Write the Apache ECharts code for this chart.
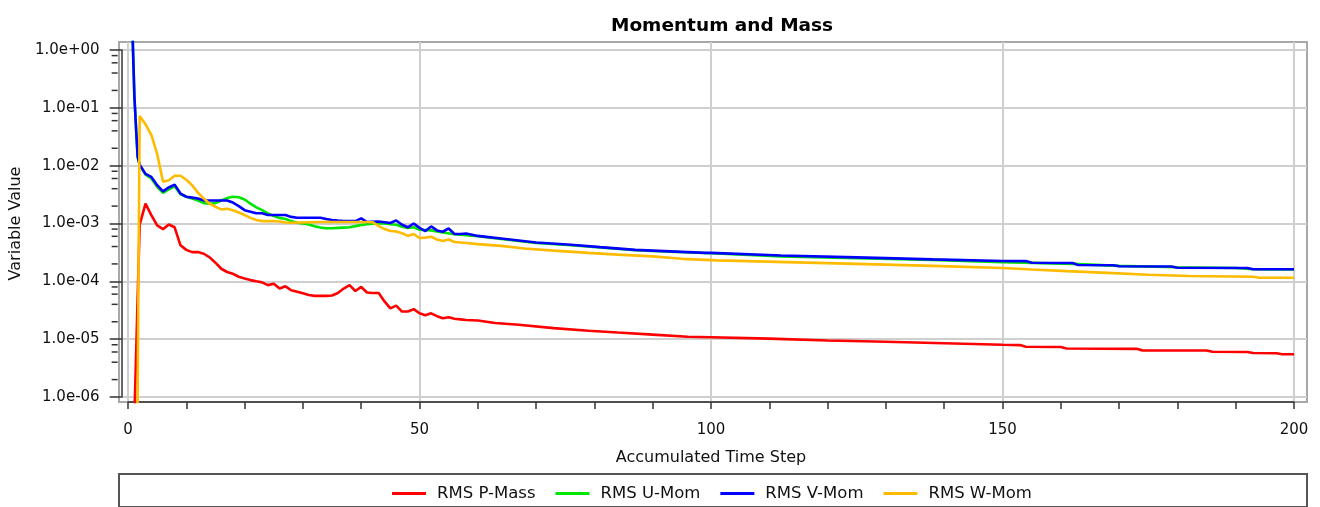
<!DOCTYPE html>
<html>
<head>
<meta charset="utf-8">
<script src="https://cdn.jsdelivr.net/npm/echarts@6/dist/echarts.min.js"></script>
<style>
html,body{margin:0;padding:0;background:#fff;}
#chart{width:1320px;height:507px;}
</style>
</head>
<body>
<div id="chart"></div>
<script>
// ---------- data ----------
const chartTitle = 'Momentum and Mass';
const xAxisTitle = 'Accumulated Time Step';
const yAxisTitle = 'Variable Value';
const seriesNames = ['RMS P-Mass', 'RMS U-Mom', 'RMS V-Mom', 'RMS W-Mom'];
const yTickExponents = [-6, -5, -4, -3, -2, -1, 0];
const yTickLabels = ['1.0e-06', '1.0e-05', '1.0e-04', '1.0e-03', '1.0e-02', '1.0e-01', '1.0e+00'];
const yMinorTickValues = [
  2e-6, 4e-6, 6e-6, 8e-6, 2e-5, 4e-5, 6e-5, 8e-5, 2e-4, 4e-4, 6e-4, 8e-4,
  2e-3, 4e-3, 6e-3, 8e-3, 2e-2, 4e-2, 6e-2, 8e-2, 0.2, 0.4, 0.6, 0.8
];
const xTickLabels = ['0', '50', '100', '150', '200'];

const pMass = [
  [1, 2e-7], [2, 9.5e-4], [3, 2.2e-3], [4, 1.4e-3], [5, 9.3e-4], [6, 8.0e-4], [7, 9.6e-4], [8, 8.6e-4],
  [9, 4.2e-4], [10, 3.5e-4], [11, 3.2e-4], [12, 3.2e-4], [13, 3.0e-4], [14, 2.6e-4], [15, 2.1e-4],
  [16, 1.65e-4], [17, 1.45e-4], [18, 1.35e-4], [19, 1.2e-4], [20, 1.12e-4], [21, 1.05e-4], [22, 1.0e-4],
  [23, 9.6e-5], [24, 8.6e-5], [25, 9.1e-5], [26, 7.5e-5], [27, 8.2e-5], [28, 7.0e-5], [29, 6.6e-5],
  [30, 6.2e-5], [31, 5.8e-5], [32, 5.6e-5], [33, 5.6e-5], [34, 5.6e-5], [35, 5.7e-5], [36, 6.3e-5],
  [37, 7.5e-5], [38, 8.6e-5], [39, 6.8e-5], [40, 8.0e-5], [41, 6.4e-5], [42, 6.3e-5], [43, 6.3e-5],
  [44, 4.5e-5], [45, 3.4e-5], [46, 3.8e-5], [47, 3.0e-5], [48, 3.0e-5], [49, 3.3e-5], [50, 2.8e-5],
  [51, 2.6e-5], [52, 2.8e-5], [53, 2.5e-5], [54, 2.3e-5], [55, 2.4e-5], [56, 2.25e-5], [57, 2.2e-5],
  [58, 2.15e-5], [60, 2.1e-5], [63, 1.9e-5], [67, 1.78e-5], [73, 1.55e-5], [79, 1.4e-5], [84, 1.3e-5],
  [90, 1.2e-5], [96, 1.1e-5], [100, 1.08e-5], [110, 1.02e-5], [120, 9.5e-6], [130, 9.0e-6],
  [140, 8.5e-6], [150, 8.0e-6], [153, 7.9e-6], [154, 7.4e-6], [160, 7.3e-6], [161, 6.9e-6],
  [173, 6.8e-6], [174, 6.4e-6], [185, 6.35e-6], [186, 6.05e-6], [192, 6.0e-6], [193, 5.75e-6],
  [197, 5.7e-6], [198, 5.5e-6], [200, 5.5e-6]
];

const uMom = [
  [0.8, 1.6], [1.1, 0.155], [1.4, 0.041], [1.65, 0.0143], [2, 0.0102], [3, 7.0e-3], [4, 6.0e-3],
  [5, 4.3e-3], [6, 3.4e-3], [7, 3.9e-3], [8, 4.4e-3], [9, 3.2e-3], [10, 2.9e-3], [11, 2.7e-3],
  [12, 2.5e-3], [13, 2.25e-3], [14, 2.2e-3], [15, 2.25e-3], [16, 2.5e-3], [17, 2.75e-3], [18, 2.9e-3],
  [19, 2.85e-3], [20, 2.6e-3], [21, 2.2e-3], [22, 1.9e-3], [23, 1.7e-3], [24, 1.5e-3], [25, 1.35e-3],
  [26, 1.25e-3], [27, 1.2e-3], [28, 1.1e-3], [29, 1.03e-3], [30, 1.0e-3], [31, 9.6e-4], [32, 9.0e-4],
  [33, 8.5e-4], [34, 8.3e-4], [35, 8.3e-4], [36, 8.4e-4], [37, 8.5e-4], [38, 8.6e-4], [39, 9.0e-4],
  [40, 9.4e-4], [41, 9.7e-4], [42, 9.9e-4], [43, 1.0e-3], [44, 1.0e-3], [45, 9.7e-4], [46, 9.5e-4],
  [47, 8.8e-4], [48, 8.4e-4], [49, 8.6e-4], [50, 7.8e-4], [52, 7.6e-4], [54, 7.0e-4], [56, 6.5e-4],
  [58, 6.3e-4], [60, 6.0e-4], [64, 5.4e-4], [70, 4.6e-4], [76, 4.2e-4], [81, 3.85e-4], [87, 3.45e-4],
  [93, 3.25e-4], [100, 3.05e-4], [112, 2.7e-4], [125, 2.5e-4], [138, 2.35e-4], [150, 2.15e-4],
  [162, 2.0e-4], [170, 1.85e-4], [180, 1.75e-4], [190, 1.7e-4], [193, 1.62e-4], [200, 1.6e-4]
];

const vMom = [
  [0.8, 1.6], [1.1, 0.155], [1.4, 0.041], [1.65, 0.0143], [2, 0.0104], [3, 7.2e-3], [4, 6.4e-3],
  [5, 4.6e-3], [6, 3.6e-3], [7, 4.2e-3], [8, 4.7e-3], [9, 3.3e-3], [10, 2.9e-3], [11, 2.8e-3],
  [12, 2.7e-3], [13, 2.5e-3], [14, 2.5e-3], [15, 2.5e-3], [16, 2.5e-3], [17, 2.5e-3], [18, 2.3e-3],
  [19, 2.0e-3], [20, 1.7e-3], [21, 1.6e-3], [22, 1.5e-3], [23, 1.5e-3], [24, 1.4e-3], [25, 1.4e-3],
  [26, 1.4e-3], [27, 1.4e-3], [28, 1.3e-3], [29, 1.26e-3], [30, 1.26e-3], [31, 1.26e-3], [32, 1.26e-3],
  [33, 1.26e-3], [34, 1.2e-3], [35, 1.15e-3], [36, 1.12e-3], [37, 1.1e-3], [38, 1.1e-3], [39, 1.1e-3],
  [40, 1.23e-3], [41, 1.06e-3], [42, 1.07e-3], [43, 1.08e-3], [44, 1.05e-3], [45, 1.02e-3],
  [46, 1.13e-3], [47, 9.5e-4], [48, 8.6e-4], [49, 1.0e-3], [50, 8.4e-4], [51, 7.4e-4], [52, 8.9e-4],
  [53, 7.6e-4], [54, 7.2e-4], [55, 8.2e-4], [56, 6.6e-4], [57, 6.6e-4], [58, 6.7e-4], [60, 6.1e-4],
  [64, 5.5e-4], [70, 4.7e-4], [76, 4.3e-4], [81, 3.9e-4], [87, 3.5e-4], [93, 3.3e-4], [99, 3.1e-4],
  [100, 3.1e-4], [112, 2.8e-4], [125, 2.6e-4], [138, 2.4e-4], [150, 2.25e-4], [154, 2.24e-4],
  [155, 2.1e-4], [162, 2.08e-4], [163, 1.92e-4], [169, 1.9e-4], [170, 1.82e-4], [179, 1.8e-4],
  [180, 1.72e-4], [192, 1.7e-4], [193, 1.62e-4], [200, 1.62e-4]
];

const wMom = [
  [1, 1e-15], [2, 0.072], [3, 0.052], [4, 0.034], [5, 0.016], [6, 5.3e-3], [7, 5.6e-3], [8, 6.7e-3],
  [9, 6.7e-3], [10, 5.7e-3], [11, 4.6e-3], [12, 3.4e-3], [13, 2.7e-3], [14, 2.2e-3], [15, 1.95e-3],
  [16, 1.75e-3], [17, 1.8e-3], [18, 1.7e-3], [19, 1.55e-3], [20, 1.4e-3], [21, 1.25e-3], [22, 1.15e-3],
  [23, 1.1e-3], [24, 1.1e-3], [25, 1.1e-3], [26, 1.08e-3], [27, 1.04e-3], [28, 1.03e-3], [33, 1.06e-3],
  [40, 1.06e-3], [42, 1.05e-3], [43, 9.0e-4], [44, 8.0e-4], [45, 7.4e-4], [46, 7.3e-4], [47, 6.8e-4],
  [48, 6.1e-4], [49, 6.6e-4], [50, 5.6e-4], [51, 5.7e-4], [52, 5.9e-4], [53, 5.3e-4], [54, 5.0e-4],
  [55, 5.3e-4], [56, 4.8e-4], [57, 4.7e-4], [58, 4.6e-4], [60, 4.4e-4], [64, 4.1e-4], [68, 3.7e-4],
  [73, 3.4e-4], [79, 3.1e-4], [84, 2.9e-4], [90, 2.7e-4], [95, 2.45e-4], [101, 2.3e-4], [113, 2.15e-4],
  [125, 2.0e-4], [138, 1.85e-4], [150, 1.7e-4], [155, 1.6e-4], [161, 1.5e-4], [168, 1.4e-4],
  [175, 1.3e-4], [182, 1.24e-4], [193, 1.2e-4], [194, 1.15e-4], [200, 1.15e-4]
];

const seriesData = [pMass, uMom, vMom, wMom];
const seriesColors = ['#ff0000', '#00e600', '#0000ff', '#ffbb00'];

// ---------- layout ----------
const FONT = 'DejaVu Sans';
const frame = { left: 119, right: 13, top: 42, bottom: 105 };
const ygrid = { left: 119, right: 13, top: 50, bottom: 110 };
const xgrid = { left: 128, right: 26, top: 42, bottom: 105 };
const W = 1320, H = 507;
const xUnit = (W - xgrid.left - xgrid.right) / 200;
const frameXMin = -(xgrid.left - frame.left) / xUnit;
const frameXMax = 200 + (xgrid.right - frame.right) / xUnit;
const decadePx = (H - ygrid.top - ygrid.bottom) / 6;
const frameLogMax = (ygrid.top - frame.top) / decadePx;
const frameLogMin = -6 - (ygrid.bottom - frame.bottom) / decadePx;

const chart = echarts.init(document.getElementById('chart'), null, { renderer: 'canvas' });

const option = {
  animation: false,
  backgroundColor: '#ffffff',
  textStyle: { fontFamily: FONT },
  title: {
    text: chartTitle,
    left: 606, top: 12,
    textStyle: { fontFamily: FONT, fontSize: 18.5, fontWeight: 'bold', color: '#000' }
  },
  legend: {
    data: seriesNames,
    left: 387, top: 480,
    icon: 'rect',
    itemWidth: 34, itemHeight: 3,
    itemGap: 20,
    textStyle: { fontFamily: FONT, fontSize: 16.5, color: '#111', padding: [0, 0, 0, 6] }
  },
  grid: [
    Object.assign({ show: true, borderColor: '#a8a8a8', borderWidth: 2, backgroundColor: 'transparent' }, frame),
    Object.assign({ show: false }, ygrid),
    Object.assign({ show: false }, xgrid),
    { left: 119, right: 13, top: 474, height: 60, show: true, borderColor: '#555', borderWidth: 2 }
  ],
  xAxis: [
    { gridIndex: 0, type: 'value', min: frameXMin, max: frameXMax, show: false },
    { gridIndex: 1, type: 'value', min: 0, max: 1, show: false },
    {
      gridIndex: 2, type: 'value', min: 0, max: 200, interval: 50, position: 'bottom', offset: 7,
      axisLine: { show: true, lineStyle: { color: '#333', width: 1.5 } },
      axisTick: { show: true, inside: false, length: 7, lineStyle: { color: '#333', width: 1.5 } },
      minorTick: { show: true, splitNumber: 5, length: 7, lineStyle: { color: '#333', width: 1.5 } },
      splitLine: { show: true, lineStyle: { color: '#cfcfcf', width: 2 } },
      minorSplitLine: { show: false },
      axisLabel: {
        margin: 14, fontFamily: FONT, fontSize: 15, color: '#111',
        formatter: v => xTickLabels[Math.round(v / 50)] || ''
      },
      name: xAxisTitle, nameLocation: 'middle', nameGap: 41,
      nameTextStyle: { fontFamily: FONT, fontSize: 16, color: '#111' }
    },
    { gridIndex: 3, type: 'value', show: false }
  ],
  yAxis: [
    { gridIndex: 0, type: 'log', min: Math.pow(10, frameLogMin), max: Math.pow(10, frameLogMax), show: false },
    {
      gridIndex: 1, type: 'log', logBase: 10, min: 1e-6, max: 1, interval: 1, position: 'left', offset: 4,
      axisLine: { show: true, lineStyle: { color: '#333', width: 1.5 } },
      axisTick: { show: true, inside: false, length: 12, lineStyle: { color: '#333', width: 1.5 } },
      minorTick: { show: false },
      splitLine: { show: true, lineStyle: { color: '#cfcfcf', width: 2 } },
      axisLabel: {
        margin: 18, fontFamily: FONT, fontSize: 15, color: '#111',
        formatter: v => {
          const e = Math.round(Math.log10(v));
          const i = yTickExponents.indexOf(e);
          return i >= 0 ? yTickLabels[i] : '';
        }
      },
      name: yAxisTitle, nameLocation: 'middle', nameGap: 87, nameRotate: 90,
      nameTextStyle: { fontFamily: FONT, fontSize: 16, color: '#111' }
    },
    { gridIndex: 2, type: 'value', show: false },
    { gridIndex: 3, type: 'value', show: false }
  ],
  series: seriesNames.map((name, i) => ({
    name,
    type: 'line',
    xAxisIndex: 0, yAxisIndex: 0,
    data: seriesData[i],
    showSymbol: false,
    symbol: 'none',
    clip: true,
    color: seriesColors[i],
    lineStyle: { color: seriesColors[i], width: 2.6 },
    z: 3 + i
  })).concat([{
    type: 'custom',
    name: 'yMinorTicks',
    xAxisIndex: 1, yAxisIndex: 1,
    silent: true,
    data: yMinorTickValues.map(v => [0, v]),
    renderItem: (params, api) => {
      const p = api.coord([api.value(0), api.value(1)]);
      return {
        type: 'line',
        shape: { x1: p[0] - 10, y1: p[1], x2: p[0] - 4, y2: p[1] },
        style: { stroke: '#333', lineWidth: 1.5 }
      };
    }
  }])
};
chart.setOption(option);
</script>
</body>
</html>
